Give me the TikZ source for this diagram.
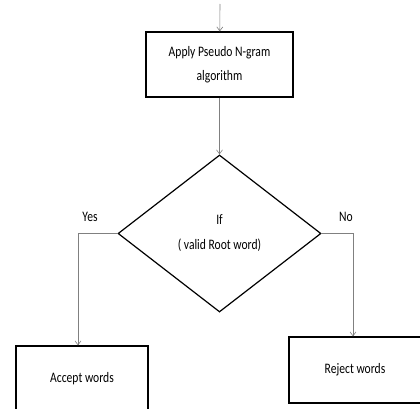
\documentclass[tikz,border=0pt]{standalone}
\usepackage{fontspec}
\setmainfont{Carlito}[FakeStretch=0.8]
\usetikzlibrary{shapes.geometric, arrows.meta, positioning}

\begin{document}
\begin{tikzpicture}[x=1pt, y=-1pt,
    box/.style={draw, line width=1.2pt, minimum width=132pt, minimum height=66pt,
      align=center, font=\fontsize{14.5}{24}\selectfont},
    decide/.style={draw, diamond, line width=1.2pt, minimum width=203pt,
      minimum height=157pt, aspect=1.3, inner sep=0pt, align=center,
      font=\fontsize{14.5}{25}\selectfont},
    flow/.style={draw=gray, line width=0.6pt, -{Straight Barb[length=4pt, width=6pt]}},
    lbl/.style={font=\fontsize{14.5}{16}\selectfont, inner sep=0pt}]
  \useasboundingbox (0,0) rectangle (420,409);
  \clip (0,0) rectangle (420,409);

  \coordinate (in) at (220,4);
  \node [box, minimum width=147pt, minimum height=65pt] (apply) at (219.5,64.5)
    {Apply Pseudo N-gram\\algorithm};
  \node [decide] (root) at (219.5,233.5) {If\\( valid Root word)};
  \node [box] (accept) at (82,379) {Accept words};
  \node [box] (reject) at (355,370) {Reject words};

  \draw [flow] (in) -- (apply);
  \draw [flow] (apply) -- (root);
  \draw [flow] (root.west) -| ([xshift=-4pt]accept.north);
  \draw [flow] (root.east) -| ([xshift=-2pt]reject.north);

  \node [lbl] (yes) at (90,217) {Yes};
  \node [lbl] (no) at (346,217) {No};
\end{tikzpicture}
\end{document}
